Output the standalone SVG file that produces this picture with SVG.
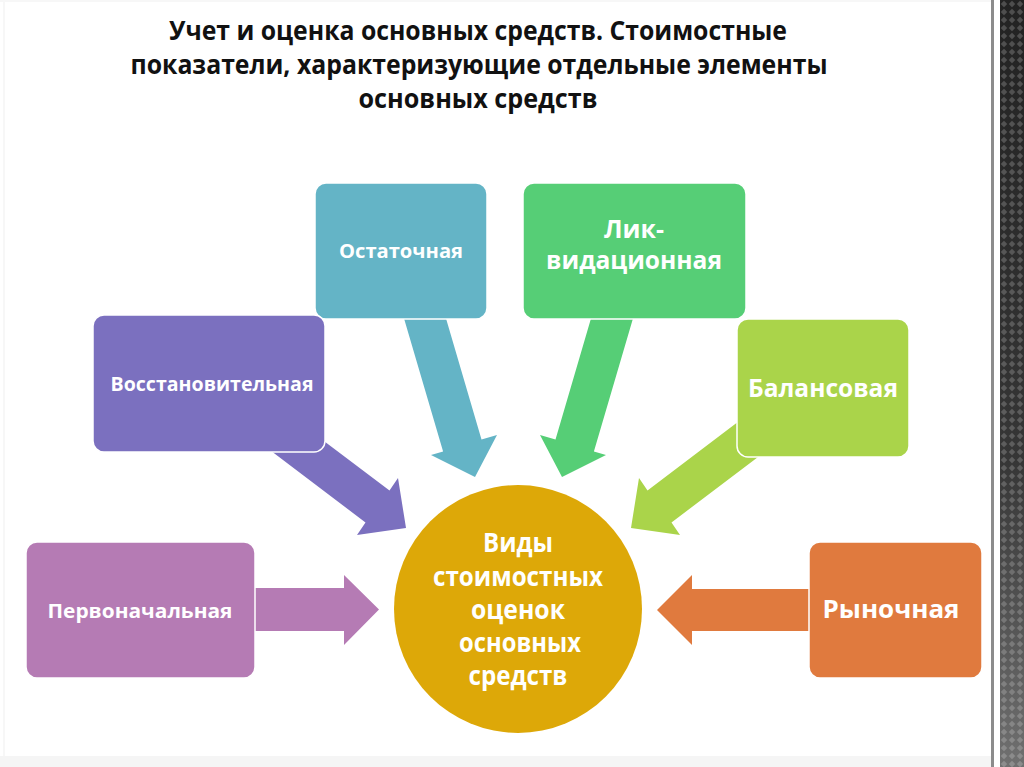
<svg xmlns="http://www.w3.org/2000/svg" width="1024" height="767" viewBox="0 0 1024 767">
  <style>
    .title { font-family: "Open Sans", "Liberation Sans", sans-serif; font-weight: bold; fill: #111111; text-anchor: middle; font-size: 27px; }
    .lbl { font-family: "Open Sans", "Liberation Sans", sans-serif; font-weight: bold; fill: #ffffff; text-anchor: middle; }
    .s { font-size: 20px; }
    .l { font-size: 24.5px; }
    .c { font-size: 26.5px; }
    .box { stroke: #ffffff; stroke-width: 1.5; }
  </style>
  <defs>
    <linearGradient id="band" x1="0" y1="0" x2="0" y2="1">
      <stop offset="0" stop-color="#222222"/>
      <stop offset="0.6" stop-color="#363636"/>
      <stop offset="1" stop-color="#707070"/>
    </linearGradient>
    <pattern id="weave" x="0" y="0" width="8" height="8" patternUnits="userSpaceOnUse">
      <path d="M4 0.8 L7.2 4 L4 7.2 L0.8 4 Z" fill="#ffffff" fill-opacity="0.2"/>
    </pattern>
  </defs>

  <rect x="0" y="0" width="1024" height="767" fill="#ffffff"/>
  <rect x="0" y="756" width="991" height="11" fill="#f5f5f5"/>
  <rect x="0" y="0" width="991" height="2" fill="#f7f7f7"/>
  <rect x="3" y="0" width="2" height="756" fill="#f7f7f7"/>
  <rect x="991" y="0" width="3" height="767" fill="#8c8c8c"/>
  <rect x="1000" y="0" width="24" height="767" fill="url(#band)"/>
  <rect x="1000" y="0" width="24" height="767" fill="url(#weave)"/>

  <g id="title">
    <text class="title" x="478" y="40" textLength="618" lengthAdjust="spacingAndGlyphs">Учет и оценка основных средств. Стоимостные</text>
    <text class="title" x="479" y="74" textLength="697" lengthAdjust="spacingAndGlyphs">показатели, характеризующие отдельные элементы</text>
    <text class="title" x="478" y="108" textLength="239" lengthAdjust="spacingAndGlyphs">основных средств</text>
  </g>

  <g id="connectors">
    <polygon fill="#b57bb4" points="250,588 344,588 344,575 379,609.5 344,645 344,631 250,631"/>
    <polygon fill="#e07a3e" points="815,589 692,589 692,575 657,610 692,645 692,631 815,631"/>
    <polygon fill="#64b4c6" points="403,315 445,315 481.5,439.6 497,435 475,477 431,455 443.1,451.4"/>
    <polygon fill="#56ce76" points="634,315 592,315 555.5,439.6 540,435 562,477 606,455 593.9,451.4"/>
    <polygon fill="#7b70bf" points="300,423 389.5,490.5 398,478 406,528 357,535 365.5,522.5 254,438"/>
    <polygon fill="#aad44a" points="751,412 647.5,490.5 639,478 631,528 680,535 671.5,522.5 783,438"/>
  </g>

  <g id="node-ostatochnaya">
    <rect class="box" x="315" y="183" width="172" height="136" rx="11" fill="#64b4c6"/>
    <text class="lbl s" x="401" y="258" textLength="124" lengthAdjust="spacingAndGlyphs">Остаточная</text>
  </g>
  <g id="node-likvidatsionnaya">
    <rect class="box" x="523" y="183" width="223" height="136" rx="11" fill="#56ce76"/>
    <text class="lbl l" x="634" y="238" textLength="60" lengthAdjust="spacingAndGlyphs">Лик-</text>
    <text class="lbl l" x="634" y="269" textLength="176" lengthAdjust="spacingAndGlyphs">видационная</text>
  </g>
  <g id="node-vosstanovitelnaya">
    <rect class="box" x="93" y="315" width="232" height="137" rx="11" fill="#7b70bf"/>
    <text class="lbl s" x="212" y="391" textLength="203" lengthAdjust="spacingAndGlyphs">Восстановительная</text>
  </g>
  <g id="node-balansovaya">
    <rect class="box" x="737" y="319" width="172" height="138" rx="11" fill="#aad44a"/>
    <text class="lbl l" x="823" y="397" textLength="150" lengthAdjust="spacingAndGlyphs">Балансовая</text>
  </g>
  <g id="node-pervonachalnaya">
    <rect class="box" x="26" y="542" width="229" height="136" rx="11" fill="#b57bb4"/>
    <text class="lbl s" x="140" y="618" textLength="185" lengthAdjust="spacingAndGlyphs">Первоначальная</text>
  </g>
  <g id="node-rynochnaya">
    <rect class="box" x="809" y="542" width="173" height="136" rx="11" fill="#e07a3e"/>
    <text class="lbl l" x="891" y="618" textLength="137" lengthAdjust="spacingAndGlyphs">Рыночная</text>
  </g>

  <g id="node-center">
    <circle cx="518" cy="609" r="124" fill="#dda808"/>
    <text class="lbl c" x="518" y="552" textLength="70" lengthAdjust="spacingAndGlyphs">Виды</text>
    <text class="lbl c" x="518" y="586" textLength="170" lengthAdjust="spacingAndGlyphs">стоимостных</text>
    <text class="lbl c" x="518" y="619" textLength="94" lengthAdjust="spacingAndGlyphs">оценок</text>
    <text class="lbl c" x="520" y="652" textLength="122" lengthAdjust="spacingAndGlyphs">основных</text>
    <text class="lbl c" x="518" y="685" textLength="99" lengthAdjust="spacingAndGlyphs">средств</text>
  </g>
</svg>
